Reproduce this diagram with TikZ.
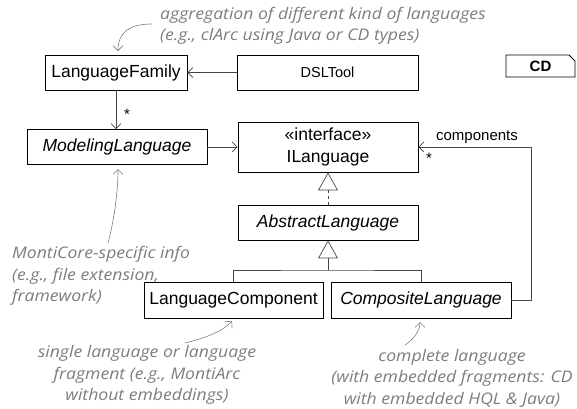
\documentclass[tikz,border=0pt]{standalone}
\usepackage{fontspec}
\setmainfont{Liberation Sans}
\newfontfamily\notefont{Open Sans}[FakeStretch=1.1]
\usetikzlibrary{arrows.meta}

\definecolor{notegray}{RGB}{125,125,125}
\definecolor{linegray}{RGB}{70,70,70}

\begin{document}
\begin{tikzpicture}[x=1pt, y=-1pt,
    every node/.style={inner sep=0pt},
    cls/.style={draw, line width=0.8pt, minimum width=180pt, minimum height=35pt,
      font=\fontsize{17.5}{22}\selectfont},
    small/.style={font=\fontsize{15}{18}\selectfont},
    assoc/.style={line width=0.7pt, draw=linegray, -{Straight Barb[length=5pt, width=10pt]}},
    inherit/.style={line width=0.7pt, draw=linegray, -{Triangle[open, length=18pt, width=20pt]}},
    note/.style={text=notegray, font=\notefont\itshape\fontsize{16}{21.5}\selectfont},
    notearrow/.style={line width=0.6pt, draw=notegray, -{Straight Barb[length=5pt, width=10pt]}}]
    \useasboundingbox (0,0) rectangle (577,408);

    % classes
    \node[cls, minimum width=142pt] (family) at (116,72.5) {LanguageFamily};
    \node[cls, minimum width=181pt, font=\fontsize{14.5}{18}\selectfont] (tool) at (327.5,72.5) {DSLTool};
    \node[cls] (modeling) at (117,147) {\itshape ModelingLanguage};
    \node[cls, minimum height=50pt, align=center] (ilang) at (328,147) {«interface»\\ILanguage};
    \node[cls] (abstract) at (328,222.5) {\itshape AbstractLanguage};
    \node[cls, minimum width=179pt, minimum height=36pt] (component) at (233.5,300) {LanguageComponent};
    \node[cls, minimum height=36pt] (composite) at (421,300) {\itshape CompositeLanguage};

    % diagram tag
    \draw[line width=0.8pt] (506,55) -- (569,55) -- (575,61) -- (575,77) -- (506,77) -- cycle;
    \node[font=\bfseries\fontsize{15}{18}\selectfont] (tag) at (540.5,66) {CD};

    % associations
    \draw[assoc] (tool.west) -- (family.east);
    \draw[assoc] (family.south) -- (family.south |- modeling.north);
    \node[small] (famstar) at (127,114) {*};
    \draw[assoc] (modeling.east) -- (ilang.west);
    \draw[assoc] (composite.east) -- ++(20,0) |- (ilang.east);
    \node[small] (role) at (477,137) {components};
    \node[small] (compstar) at (429,158) {*};

    % generalizations
    \draw[inherit, dash pattern=on 3pt off 3pt] (abstract.north) -- (ilang.south);
    \coordinate (bus) at (328,270);
    \draw[line width=0.7pt, draw=linegray] (component.north) |- (bus) -| (composite.north);
    \draw[inherit] (bus) -- (abstract.south);

    % notes
    \node[note, anchor=west, align=left] (aggnote) at (160,26)
      {aggregation of different kind of languages\\(e.g., clArc using Java or CD types)};
    \draw[notearrow] (152,24) .. controls (130,24) and (118,32) .. (118,51);

    \node[note, anchor=west, align=left] (mcnote) at (12,276)
      {MontiCore-specific info\\(e.g., file extension,\\framework)};
    \draw[notearrow] (108,243) .. controls (113,225) and (118,195) .. (118,169);

    \node[note, align=center] (singlenote) at (147,375)
      {single language or language\\fragment (e.g., MontiArc\\without embeddings)};
    \draw[notearrow] (185,343) .. controls (205,338) and (222,332) .. (232,321);

    \node[note, align=center] (fullnote) at (452,378)
      {complete language\\(with embedded fragments: CD\\with embedded HQL \& Java)};
    \draw[notearrow] (405,345) .. controls (415,338) and (420,330) .. (420,322);
  \end{tikzpicture}
\end{document}
